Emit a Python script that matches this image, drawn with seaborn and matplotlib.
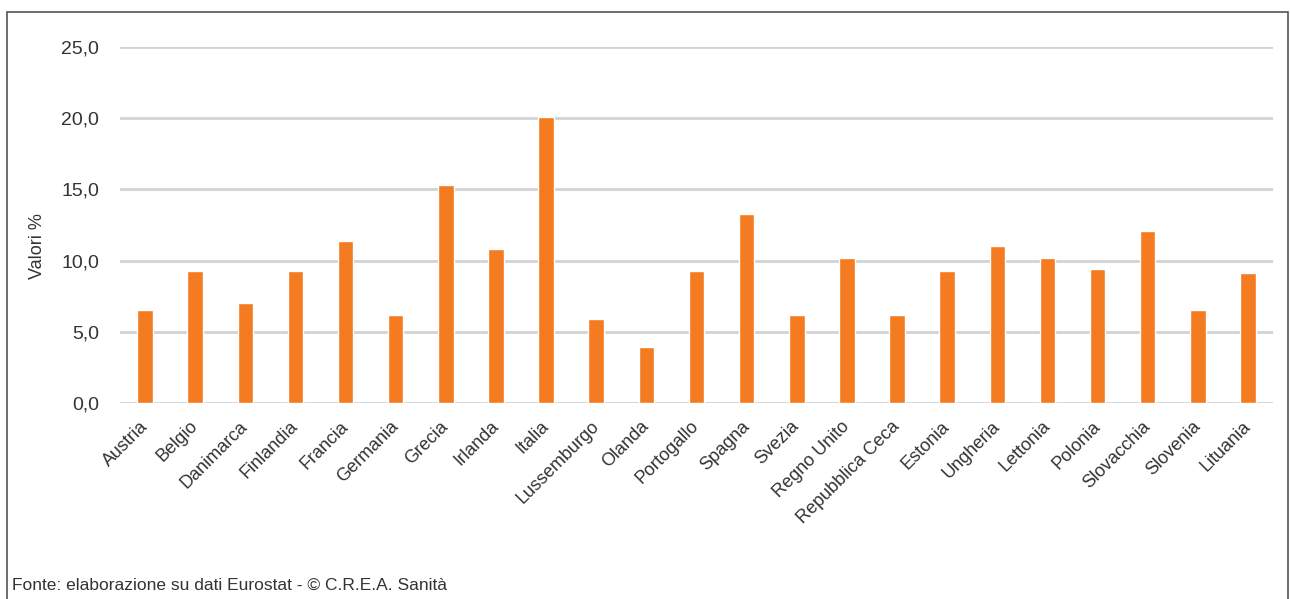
import matplotlib
matplotlib.use("Agg")
import matplotlib.pyplot as plt
from matplotlib.ticker import FuncFormatter
from matplotlib.patches import Rectangle
import seaborn as sns
import pandas as pd

paesi = ["Austria", "Belgio", "Danimarca", "Finlandia", "Francia", "Germania",
         "Grecia", "Irlanda", "Italia", "Lussemburgo", "Olanda", "Portogallo",
         "Spagna", "Svezia", "Regno Unito", "Repubblica Ceca", "Estonia",
         "Ungheria", "Lettonia", "Polonia", "Slovacchia", "Slovenia", "Lituania"]
valori = [6.5, 9.3, 7.0, 9.3, 11.4, 6.2, 15.3, 10.8, 20.1, 5.9, 3.9, 9.3,
          13.3, 6.2, 10.2, 6.2, 9.3, 11.0, 10.2, 9.4, 12.1, 6.5, 9.1]
y_ticks = [0, 5, 10, 15, 20, 25]

sns.set_theme(style="white")
plt.rcParams['font.family'] = ['Liberation Sans', 'DejaVu Sans']
text_col = "#333333"

df = pd.DataFrame({"paese": paesi, "valore": valori})

fig = plt.figure(figsize=(12.9, 5.99), dpi=100)
ax = fig.add_axes([120 / 1290, 1 - 403 / 599, (1273 - 120) / 1290, (403 - 47) / 599])

sns.barplot(data=df, x="paese", y="valore", color="#F47B20", width=0.31,
            saturation=1, ax=ax, zorder=3)

ax.set_ylim(0, 25)
ax.set_yticks(y_ticks)
ax.yaxis.set_major_formatter(FuncFormatter(lambda v, p: f"{v:.1f}".replace(".", ",")))
ax.grid(axis="y", color="#D3D3D3", linewidth=2, zorder=0)
ax.set_axisbelow(True)
for s in ax.spines.values():
    s.set_visible(False)

ax.set_xlabel("")
ax.set_ylabel("Valori %", fontsize=13, color=text_col)
ax.yaxis.set_label_coords(-0.064, 0.44)
ax.tick_params(axis="y", length=0, pad=15, labelsize=14, labelcolor=text_col)
ax.tick_params(axis="x", length=0, pad=15, labelsize=13, labelcolor=text_col)
for lab in ax.get_xticklabels():
    lab.set_rotation(45)
    lab.set_ha("right")
    lab.set_va("center")
    lab.set_rotation_mode("anchor")

# cornice
fig.patches.append(Rectangle((7 / 1290, -0.05), (1288 - 7) / 1290, 1.05 - 12 / 599,
                             transform=fig.transFigure, fill=False,
                             edgecolor="#555555", linewidth=1.2))

fig.text(12 / 1290, 1 - 585 / 599, "Fonte: elaborazione su dati Eurostat - © C.R.E.A. Sanità",
         fontsize=12.5, color=text_col, va="center", ha="left")

fig.savefig("out.png", dpi=100)
